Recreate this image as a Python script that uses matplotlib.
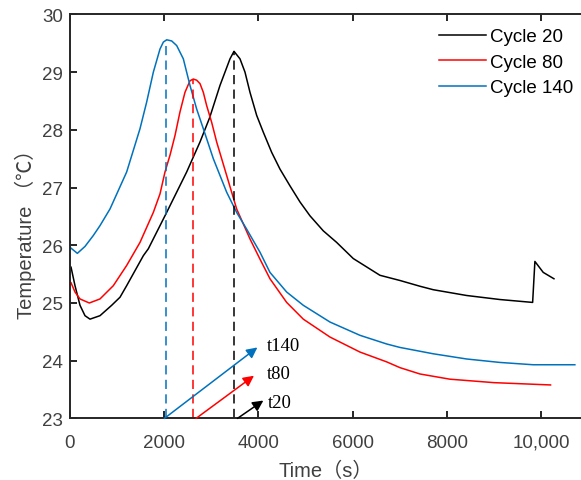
import numpy as np
import matplotlib.pyplot as plt
from matplotlib.ticker import FuncFormatter

plt.rcParams['font.family'] = ['Liberation Sans', 'Noto Sans CJK SC']

# Cycle 20
t20 = [28, 112, 218, 324, 430, 642, 890, 1067, 1208, 1562, 1668, 2057, 2481, 2764,
       2968, 3188, 3400, 3485, 3612, 3718, 3824, 3966, 4106, 4284, 4460, 4672, 4885,
       5097, 5379, 5662, 6015, 6581, 7005, 7430, 7712, 8419, 9126, 9820, 9868, 10045,
       10272]
T20 = [25.62, 25.30, 24.96, 24.78, 24.72, 24.78, 24.96, 25.10, 25.30, 25.82, 25.94,
       26.57, 27.27, 27.79, 28.21, 28.77, 29.23, 29.36, 29.23, 29.00, 28.65, 28.25,
       27.96, 27.61, 27.32, 27.03, 26.75, 26.51, 26.25, 26.05, 25.77, 25.48, 25.39,
       25.29, 25.23, 25.13, 25.06, 25.01, 25.72, 25.53, 25.42]

# Cycle 80
t80 = [28, 112, 218, 416, 642, 925, 1208, 1491, 1774, 1915, 2021, 2127, 2233, 2339,
       2445, 2551, 2622, 2693, 2764, 2834, 2905, 3011, 3117, 3329, 3541, 3824, 4036,
       4248, 4602, 4955, 5521, 6157, 6723, 7005, 7430, 8064, 9000, 10200]
T80 = [25.35, 25.19, 25.07, 25.00, 25.07, 25.30, 25.65, 26.05, 26.57, 26.89, 27.27,
       27.56, 27.90, 28.31, 28.65, 28.85, 28.88, 28.86, 28.80, 28.65, 28.42, 28.13,
       27.79, 27.21, 26.63, 26.11, 25.76, 25.42, 25.01, 24.72, 24.41, 24.15, 23.98,
       23.88, 23.77, 23.68, 23.62, 23.58]

# Cycle 140
t140 = [28, 162, 324, 501, 642, 855, 1208, 1491, 1632, 1774, 1915, 1986, 2057, 2163,
        2269, 2410, 2551, 2693, 2834, 3046, 3329, 3541, 3753, 4036, 4248, 4602, 4955,
        5521, 6157, 6723, 7005, 7712, 8419, 9126, 9832, 10716]
T140 = [25.95, 25.86, 25.98, 26.17, 26.34, 26.63, 27.27, 28.02, 28.48, 29.00, 29.40,
        29.52, 29.56, 29.54, 29.46, 29.23, 28.77, 28.36, 28.02, 27.50, 26.92, 26.57,
        26.28, 25.88, 25.53, 25.19, 24.96, 24.67, 24.44, 24.29, 24.23, 24.12, 24.03,
        23.97, 23.93, 23.93]

peak_t = [3485, 2622, 2042]
peak_T = [29.36, 28.88, 29.56]
labels = ['Cycle 20', 'Cycle 80', 'Cycle 140']
colors = ['black', '#FF0000', '#0072BD']

arrow_start = [3557, 2679, 2007]
arrow_end = [(4108, 23.31), (3909, 23.74), (3981, 24.23)]
arrow_text = ['t20', 't80', 't140']
text_pos = [(4213, 23.28), (4192, 23.77), (4178, 24.26)]

fig = plt.figure(figsize=(5.81, 4.81), dpi=100)
ax = fig.add_axes([0.12, 0.128, 0.88, 0.84])

for t, T, c, lab in zip([t20, t80, t140], [T20, T80, T140], colors, labels):
    ax.plot(t, T, color=c, lw=1.1, label=lab)

for pt, pT, c in zip(peak_t, peak_T, colors):
    ax.plot([pt, pt], [23, pT], color=c, lw=1.1, ls=(0, (6, 3.5)))

for s, e, txt, tp, c in zip(arrow_start, arrow_end, arrow_text, text_pos, colors):
    ax.annotate('', xy=e, xytext=(s, 23), annotation_clip=False,
                arrowprops=dict(arrowstyle='-|>', color=c, lw=1.1, mutation_scale=16,
                                shrinkA=0, shrinkB=0))
    ax.text(tp[0], tp[1], txt, family='Liberation Serif', fontsize=13.5,
            va='center', ha='left')

ax.set_xlim(0, 10846)
ax.set_ylim(23, 30)
ax.set_xticks([0, 2000, 4000, 6000, 8000, 10000])
ax.xaxis.set_major_formatter(FuncFormatter(lambda v, p: f'{int(v):,}' if v >= 10000 else f'{int(v)}'))
ax.set_yticks(range(23, 31))

ax.tick_params(direction='in', top=True, right=False, length=5, width=1.2,
               labelsize=13.5, labelcolor='#404040')
ax.tick_params(axis='x', pad=11)
ax.tick_params(axis='y', pad=5)
for sp in ['left', 'bottom', 'top']:
    ax.spines[sp].set_linewidth(1.4)
    ax.spines[sp].set_color('#262626')
ax.spines['right'].set_visible(False)

ax.set_xlabel('Time（s）', fontsize=14.5, color='#404040', labelpad=7)
ax.set_ylabel('Temperature （℃）', fontsize=14.5, color='#404040')
ax.yaxis.set_label_coords(-0.066, 0.47)

ax.legend(loc='upper right', frameon=False, fontsize=13.5, handlelength=2.5,
          handletextpad=0.2, labelspacing=0.45, borderaxespad=0, borderpad=0,
          bbox_to_anchor=(0.984, 0.966))

fig.savefig('out.png', dpi=100)
